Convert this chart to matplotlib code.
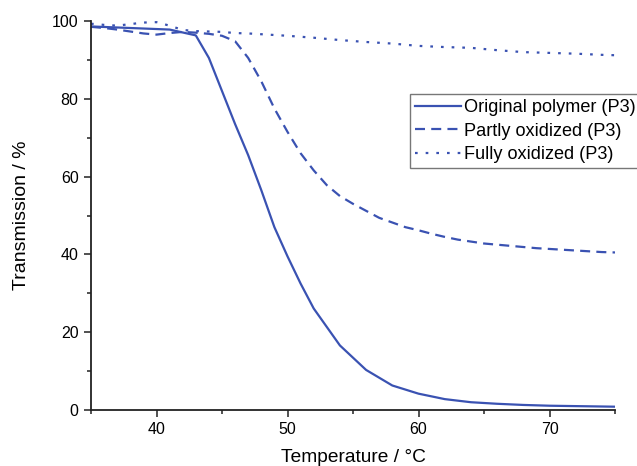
import matplotlib
matplotlib.use('Agg')
import matplotlib.pyplot as plt
from matplotlib.ticker import MultipleLocator

plt.rcParams['font.family'] = ['Liberation Sans', 'DejaVu Sans']

BLUE = '#3a52b2'

# original polymer (P3)
temp_orig = [35, 38, 41, 43, 44, 45, 46, 47, 48, 49, 50, 51, 52, 54, 56, 58,
             60, 62, 64, 66, 68, 70, 72, 75]
trans_orig = [98.6, 98.2, 97.8, 96.3, 90.5, 82.0, 73.5, 65.5, 56.5, 47.0, 39.5,
              32.5, 26.1, 16.6, 10.3, 6.3, 4.2, 2.8, 2.0, 1.6, 1.3, 1.1, 1.0, 0.85]

# partly oxidized (P3)
temp_part = [35, 36, 37, 38, 39, 40, 41, 42, 43, 44, 45, 46, 47, 48, 49, 50, 51,
             52, 53, 54, 55, 56, 57, 58, 59, 60, 61, 62, 63, 64, 65, 66, 67, 68,
             69, 70, 71, 72, 73, 74, 75]
trans_part = [98.5, 98.2, 97.8, 97.3, 96.8, 96.5, 96.9, 97.2, 97.0, 96.7, 96.2,
              94.8, 90.5, 84.5, 77.5, 71.5, 66.0, 61.6, 57.8, 55.0, 53.0, 51.2,
              49.4, 48.2, 47.0, 46.2, 45.3, 44.5, 43.8, 43.3, 42.8, 42.5, 42.2,
              41.9, 41.6, 41.4, 41.2, 41.0, 40.8, 40.6, 40.5]

# fully oxidized (P3)
temp_full = [35, 36, 37, 38, 39, 40, 41, 42, 43, 44, 45, 46, 47, 48, 50, 52, 54,
             56, 58, 60, 62, 64, 66, 68, 70, 72, 74, 75]
trans_full = [99.3, 99.0, 98.8, 99.2, 99.6, 99.7, 98.8, 97.7, 97.4, 97.3, 97.2,
              96.9, 96.8, 96.6, 96.2, 95.7, 95.1, 94.6, 94.2, 93.6, 93.3, 93.1,
              92.5, 92.0, 91.8, 91.6, 91.3, 91.2]

labels = ['Original polymer (P3)', 'Partly oxidized (P3)', 'Fully oxidized (P3)']

fig = plt.figure(figsize=(6.37, 4.66), dpi=100)
ax = fig.add_axes([91 / 637, 1 - 410 / 466, (615 - 91) / 637, (410 - 21) / 466])

ax.plot(temp_orig, trans_orig, color=BLUE, lw=1.6, label=labels[0])
ax.plot(temp_part, trans_part, color=BLUE, lw=1.6, dashes=(4.5, 2.8), label=labels[1])
ax.plot(temp_full, trans_full, color=BLUE, lw=1.6, dashes=(1.2, 3.6), label=labels[2])

ax.set_xlim(35, 75)
ax.set_ylim(0, 100)
ax.xaxis.set_major_locator(MultipleLocator(10))
ax.xaxis.set_minor_locator(MultipleLocator(5))
ax.yaxis.set_major_locator(MultipleLocator(20))
ax.yaxis.set_minor_locator(MultipleLocator(10))
ax.set_xticks([40, 50, 60, 70])

for s in ['top', 'right']:
    ax.spines[s].set_visible(False)
for s in ['left', 'bottom']:
    ax.spines[s].set_linewidth(1.3)
    ax.spines[s].set_color('#222222')

ax.tick_params(which='major', direction='out', length=5, width=1.1, labelsize=11.5,
               color='#222222', pad=4)
ax.tick_params(which='minor', direction='out', length=3, width=1.1, color='#222222')

ax.set_xlabel('Temperature / °C', fontsize=13.8, labelpad=8)
ax.set_ylabel('Transmission / %', fontsize=14, labelpad=16)

leg = fig.legend(loc='upper left', bbox_to_anchor=(410 / 637, 1 - 94 / 466),
                 fontsize=13.1, frameon=True, fancybox=False, handlelength=2.5,
                 handletextpad=0.2, borderpad=0.28, labelspacing=0.36,
                 borderaxespad=0)
leg.get_frame().set_edgecolor('#555555')
leg.get_frame().set_linewidth(1.0)

fig.savefig('out.png', dpi=100)
